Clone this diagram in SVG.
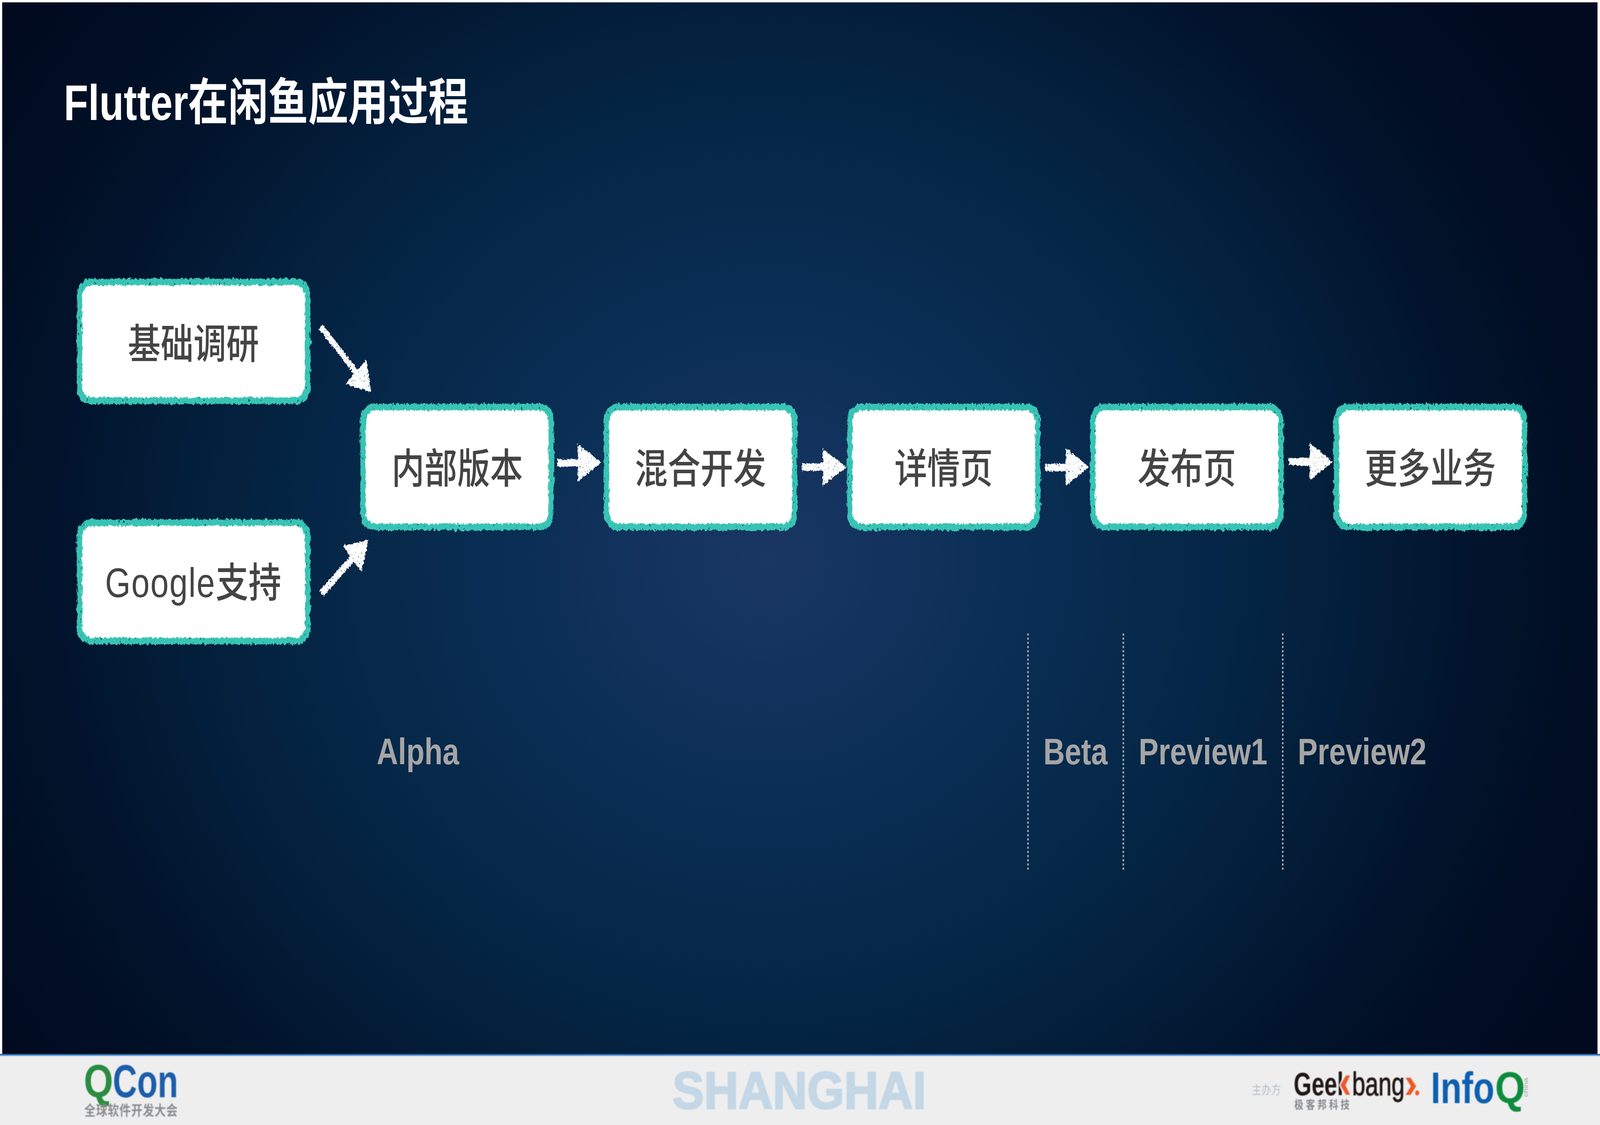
<svg xmlns="http://www.w3.org/2000/svg" width="5119" height="2879" viewBox="0 0 5119 2879" preserveAspectRatio="none">
<defs>
<radialGradient id="bgGrad" gradientUnits="userSpaceOnUse" cx="0" cy="0" r="3000" gradientTransform="translate(2450 1430) scale(1 .77)">
<stop offset="0" stop-color="#1a3663"/>
<stop offset=".08" stop-color="#163460"/>
<stop offset=".15" stop-color="#11325c"/>
<stop offset=".24" stop-color="#0c2f56"/>
<stop offset=".34" stop-color="#082b50"/>
<stop offset=".44" stop-color="#062849"/>
<stop offset=".54" stop-color="#042342"/>
<stop offset=".64" stop-color="#031d39"/>
<stop offset=".74" stop-color="#02152e"/>
<stop offset=".86" stop-color="#010f25"/>
<stop offset="1" stop-color="#010a1f"/>
</radialGradient>
<filter id="roughTeal" x="-5%" y="-8%" width="110%" height="116%" color-interpolation-filters="sRGB">
<feTurbulence type="fractalNoise" baseFrequency=".13 .06" numOctaves="3" seed="4" result="n"/>
<feDisplacementMap in="SourceGraphic" in2="n" scale="13" xChannelSelector="R" yChannelSelector="G" result="d"/>
<feTurbulence type="fractalNoise" baseFrequency=".18 .1" numOctaves="2" seed="9" result="s"/>
<feColorMatrix in="s" type="matrix" values="0 0 0 0 0 0 0 0 0 0 0 0 0 0 0 14 0 0 0 -2.9" result="m"/>
<feComposite in="d" in2="m" operator="in"/>
</filter>
<filter id="roughWhite" x="-5%" y="-8%" width="110%" height="116%" color-interpolation-filters="sRGB">
<feTurbulence type="fractalNoise" baseFrequency=".16 .08" numOctaves="3" seed="12" result="n"/>
<feDisplacementMap in="SourceGraphic" in2="n" scale="11" xChannelSelector="G" yChannelSelector="R"/>
</filter>
<filter id="chalk" x="-15%" y="-15%" width="130%" height="130%" color-interpolation-filters="sRGB">
<feTurbulence type="fractalNoise" baseFrequency=".16" numOctaves="3" seed="7" result="n"/>
<feDisplacementMap in="SourceGraphic" in2="n" scale="10" xChannelSelector="R" yChannelSelector="G" result="d"/>
<feTurbulence type="fractalNoise" baseFrequency=".22" numOctaves="2" seed="21" result="s"/>
<feColorMatrix in="s" type="matrix" values="0 0 0 0 0 0 0 0 0 0 0 0 0 0 0 14 0 0 0 -3.2" result="m"/>
<feComposite in="d" in2="m" operator="in"/>
</filter>
<filter id="soft" x="-2%" y="-20%" width="104%" height="140%"><feGaussianBlur stdDeviation="1.2"/></filter>
</defs>
<style>
svg:root{width:100vw;height:100vh}
.border{fill:#38c4b4;filter:url(#roughTeal)}
.fill{fill:#fff;filter:url(#roughWhite)}
.box{font-family:"Liberation Sans","Noto Sans CJK SC",sans-serif;font-size:105px;fill:#444;text-anchor:middle;font-weight:500}
.phase{font-family:"Liberation Sans",sans-serif;font-weight:700;font-size:95px;fill:#a5a5a5}
.dash{stroke:#a8a8a8;stroke-width:5;stroke-dasharray:5.4 5.3;fill:none}
.arrow{fill:#fff;filter:url(#chalk)}
.bold{font-family:"Liberation Sans",sans-serif;font-weight:700}
.cjk{font-family:"Noto Sans CJK SC",sans-serif}
</style>
<rect width="5119" height="2879" fill="#fff"/>
<rect x="7" y="6" width="5104" height="2692" fill="url(#bgGrad)"/>
<rect y="2697" width="5119" height="182" fill="#eeeeee"/>
<rect y="2697" width="5119" height="4" fill="#2a6db5"/>
<rect y="2701" width="5119" height="3" fill="#c3d3e4"/>
<text id="title" x="204" y="307" font-size="128" font-weight="700" fill="#fff" font-family="'Liberation Sans','Noto Sans CJK SC',sans-serif">Flutter在闲鱼应用过程</text>

<g id="connectors">
<polygon class="arrow" points="1032,830 1145,946 1172,921 1188,1004 1106,983 1133,958 1020,842"/>
<polygon class="arrow" points="1023,1512 1120,1423 1096,1397 1179,1382 1157,1463 1132,1437 1035,1526"/>
<polygon class="arrow" points="1783,1175 1849,1175 1849,1137 1924,1183 1849,1232 1849,1194 1783,1194"/>
<polygon class="arrow" points="2566,1186 2632,1186 2632,1148 2708,1196 2632,1243 2632,1205 2566,1205"/>
<polygon class="arrow" points="3344,1187 3410,1187 3410,1148 3485,1195 3410,1243 3410,1206 3344,1206"/>
<polygon class="arrow" points="4124,1172 4190,1172 4190,1134 4265,1182 4190,1229 4190,1191 4124,1191"/>
</g>

<g id="node-research">
<rect class="border" x="246" y="713" width="747" height="321" rx="42"/>
<rect class="fill" x="263" y="730" width="713" height="287" rx="30"/>
<text class="box" x="619" y="917">基础调研</text>
</g>
<g id="node-google">
<rect class="border" x="246" y="1329" width="747" height="320" rx="42"/>
<rect class="fill" x="263" y="1346" width="713" height="286" rx="30"/>
<text class="box" x="618" y="1528"><tspan letter-spacing="2.5">Google</tspan>支持</text>
</g>
<g id="node-internal">
<rect class="border" x="1153" y="1033" width="619" height="324" rx="42"/>
<rect class="fill" x="1170" y="1050" width="585" height="290" rx="30"/>
<text class="box" x="1463" y="1236">内部版本</text>
</g>
<g id="node-hybrid">
<rect class="border" x="1932" y="1033" width="619" height="324" rx="42"/>
<rect class="fill" x="1949" y="1050" width="585" height="290" rx="30"/>
<text class="box" x="2241" y="1236">混合开发</text>
</g>
<g id="node-detail">
<rect class="border" x="2710" y="1033" width="619" height="324" rx="42"/>
<rect class="fill" x="2727" y="1050" width="585" height="290" rx="30"/>
<text class="box" x="3019" y="1236">详情页</text>
</g>
<g id="node-publish">
<rect class="border" x="3488" y="1033" width="619" height="324" rx="42"/>
<rect class="fill" x="3505" y="1050" width="585" height="290" rx="30"/>
<text class="box" x="3797" y="1236">发布页</text>
</g>
<g id="node-more">
<rect class="border" x="4267" y="1033" width="619" height="324" rx="42"/>
<rect class="fill" x="4284" y="1050" width="585" height="290" rx="30"/>
<text class="box" x="4576" y="1236">更多业务</text>
</g>

<g id="phases">
<line class="dash" x1="3289" y1="1621" x2="3289" y2="2226"/>
<line class="dash" x1="3594" y1="1621" x2="3594" y2="2226"/>
<line class="dash" x1="4104" y1="1621" x2="4104" y2="2226"/>
<text class="phase" x="1205" y="1956">Alpha</text>
<text class="phase" x="3338" y="1956">Beta</text>
<text class="phase" x="3643" y="1956">Preview1</text>
<text class="phase" x="4152" y="1956">Preview2</text>
</g>

<g id="footer" filter="url(#soft)">
<text class="bold" x="268" y="2808" font-size="118" fill="#2a8c3f" textLength="94" lengthAdjust="spacingAndGlyphs">Q</text>
<text class="bold" x="361" y="2808" font-size="118" fill="#1a5dab" textLength="209" lengthAdjust="spacingAndGlyphs">Con</text>
<text class="cjk" x="270" y="2855" font-size="36" font-weight="700" fill="#8a8d90" letter-spacing="1.4">全球软件开发大会</text>
<text x="2151" y="2837" font-size="133" class="bold" fill="#c3d7e6" stroke="#c3d7e6" stroke-width="4" textLength="812" lengthAdjust="spacingAndGlyphs">SHANGHAI</text>
<text class="cjk" x="4005" y="2800" font-size="31" fill="#b5bcc4">主办方</text>
<text class="bold" x="4139" y="2803" font-size="84" fill="#231815" textLength="180" lengthAdjust="spacingAndGlyphs">Geek</text>
<polygon points="4322,2750 4322,2804 4300,2804 4285,2777 4300,2750" fill="#eeeeee"/>
<polygon points="4306,2752 4320,2752 4305,2777 4320,2802 4306,2802 4288,2777" fill="#ee5a28"/>
<text x="4326" y="2803" font-size="84" font-family="'Liberation Sans',sans-serif" fill="#231815" stroke="#231815" stroke-width="1.5" textLength="168" lengthAdjust="spacingAndGlyphs">bang</text>
<polygon points="4497,2758 4513,2758 4531,2780 4513,2802 4497,2802 4514,2780" fill="#ee5a28"/>
<circle cx="4534" cy="2797" r="6.5" fill="#ee5a28"/>
<text class="cjk" x="4141" y="2838" font-size="29" font-weight="700" fill="#85898d" letter-spacing="8">极客邦科技</text>
<text class="bold" x="4578" y="2823" font-size="113" fill="#0f5fb0" textLength="203" lengthAdjust="spacingAndGlyphs">Info</text>
<text class="bold" x="4783" y="2823" font-size="113" fill="#078c3e" textLength="96" lengthAdjust="spacingAndGlyphs">Q</text>
<text x="4888" y="2807" font-size="18" font-family="'Liberation Sans',sans-serif" fill="#9a9a9a" transform="rotate(-90 4888 2807)" textLength="49" lengthAdjust="spacingAndGlyphs">china</text>
</g>
</svg>
